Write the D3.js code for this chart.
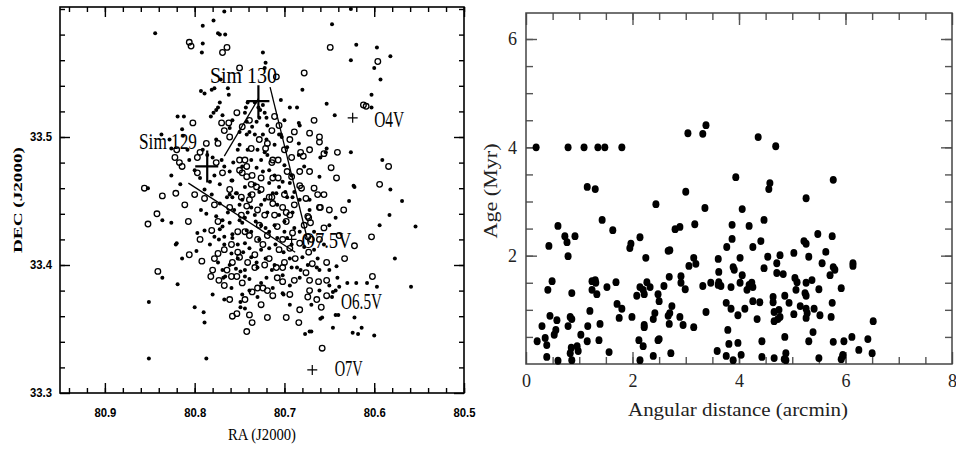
<!DOCTYPE html>
<html>
<head>
<meta charset="utf-8">
<script src="https://cdn.jsdelivr.net/npm/d3@7"></script>
<style>
  body { margin: 0; background: #fff; }
  svg { display: block; }
</style>
</head>
<body>
<svg id="chart" width="956" height="449"></svg>
<script>
// left panel: stars in the field, filled dots and open circles (RA, Dec in degrees)
const filledStars = [
  [80.844,33.581],[80.791,33.587],[80.779,33.591],[80.774,33.581],[80.772,33.580],[80.791,33.573],
  [80.792,33.566],[80.767,33.598],[80.626,33.600],[80.647,33.588],[80.620,33.572],[80.626,33.560],
  [80.597,33.570],[80.582,33.563],[80.600,33.554],[80.724,33.566],[80.721,33.558],[80.766,33.580],
  [80.771,33.545],[80.593,33.545],[80.680,33.537],[80.704,33.529],[80.686,33.523],[80.653,33.526],
  [80.644,33.517],[80.603,33.533],[80.603,33.523],[80.793,33.536],[80.789,33.534],[80.778,33.538],
  [80.763,33.538],[80.762,33.533],[80.772,33.527],[80.776,33.521],[80.819,33.516],[80.812,33.516],
  [80.782,33.516],[80.814,33.506],[80.837,33.502],[80.813,33.501],[80.683,33.509],[80.704,33.502],
  [80.684,33.495],[80.697,33.492],[80.653,33.491],[80.654,33.488],[80.626,33.488],[80.591,33.482],
  [80.741,33.527],[80.733,33.527],[80.729,33.523],[80.724,33.525],[80.727,33.521],[80.722,33.519],
  [80.720,33.515],[80.728,33.515],[80.731,33.512],[80.736,33.508],[80.739,33.504],[80.719,33.509],
  [80.724,33.502],[80.720,33.498],[80.744,33.519],[80.743,33.523],[80.742,33.512],[80.684,33.511],
  [80.722,33.488],[80.731,33.476],[80.706,33.502],[80.703,33.500],[80.684,33.486],[80.678,33.477],
  [80.661,33.469],[80.660,33.484],[80.692,33.470],[80.694,33.464],[80.699,33.457],[80.706,33.461],
  [80.717,33.464],[80.728,33.457],[80.713,33.456],[80.691,33.453],[80.697,33.453],[80.622,33.461],
  [80.781,33.537],[80.774,33.523],[80.779,33.519],[80.769,33.517],[80.828,33.498],[80.826,33.491],
  [80.791,33.490],[80.776,33.498],[80.761,33.507],[80.758,33.513],[80.750,33.504],[80.742,33.502],
  [80.826,33.470],[80.852,33.460],[80.816,33.463],[80.786,33.486],[80.780,33.484],[80.770,33.482],
  [80.767,33.477],[80.761,33.473],[80.757,33.480],[80.747,33.477],[80.758,33.466],[80.754,33.456],
  [80.764,33.453],[80.744,33.461],[80.836,33.435],[80.826,33.433],[80.793,33.443],[80.787,33.440],
  [80.776,33.438],[80.769,33.435],[80.772,33.428],[80.797,33.425],[80.820,33.417],[80.821,33.416],
  [80.798,33.411],[80.814,33.405],[80.778,33.422],[80.773,33.420],[80.767,33.422],[80.769,33.396],
  [80.766,33.391],[80.759,33.409],[80.744,33.391],[80.749,33.395],[80.836,33.390],[80.819,33.385],
  [80.851,33.371],[80.780,33.377],[80.767,33.373],[80.800,33.367],[80.790,33.363],[80.789,33.355],
  [80.749,33.367],[80.744,33.366],[80.747,33.377],[80.761,33.455],[80.758,33.453],[80.753,33.456],
  [80.747,33.451],[80.772,33.448],[80.756,33.443],[80.744,33.437],[80.747,33.433],[80.758,33.421],
  [80.744,33.417],[80.742,33.427],[80.761,33.433],[80.628,33.450],[80.650,33.431],[80.643,33.437],
  [80.737,33.445],[80.722,33.451],[80.709,33.456],[80.706,33.439],[80.700,33.426],[80.678,33.414],
  [80.680,33.406],[80.686,33.398],[80.682,33.396],[80.664,33.398],[80.650,33.384],[80.661,33.380],
  [80.670,33.369],[80.643,33.380],[80.639,33.383],[80.647,33.375],[80.641,33.390],[80.650,33.396],
  [80.661,33.396],[80.642,33.399],[80.739,33.413],[80.737,33.406],[80.744,33.396],[80.720,33.390],
  [80.692,33.398],[80.713,33.382],[80.702,33.378],[80.694,33.369],[80.672,33.348],[80.677,33.346],
  [80.758,33.424],[80.769,33.430],[80.768,33.390],[80.851,33.327],[80.787,33.327],[80.594,33.431],
  [80.554,33.430],[80.577,33.405],[80.559,33.383],[80.597,33.383],[80.608,33.386],[80.620,33.386],
  [80.630,33.386],[80.646,33.379],[80.622,33.359],[80.614,33.351],[80.618,33.346],[80.624,33.347],
  [80.600,33.345],[80.646,33.351],[80.670,33.348],[80.640,33.361],[80.643,33.361],[80.660,33.358],
  [80.658,33.359],[80.749,33.371],[80.730,33.375],[80.701,33.377],[80.582,33.459],[80.569,33.450],
  [80.623,33.462],[80.583,33.439],[80.722,33.554],
  [80.733,33.439],[80.726,33.431],[80.717,33.426],[80.710,33.416],[80.701,33.410],[80.694,33.405],
  [80.728,33.420],[80.719,33.441],[80.711,33.431],[80.697,33.421],[80.689,33.429],[80.726,33.482],
  [80.717,33.474],[80.741,33.490],[80.750,33.494],[80.733,33.463],[80.708,33.447],[80.691,33.441],
  [80.683,33.451],[80.672,33.443],[80.683,33.426],[80.667,33.412],[80.663,33.405],[80.656,33.416],
  [80.731,33.402],[80.721,33.405],[80.711,33.400],[80.702,33.392],[80.726,33.386],[80.739,33.380],
  [80.759,33.382],[80.761,33.400],[80.752,33.416],[80.750,33.435],[80.737,33.426],[80.752,33.405],
  [80.806,33.482],[80.800,33.474],[80.794,33.468],[80.789,33.459],[80.783,33.465],[80.778,33.470],
  [80.772,33.463],[80.808,33.490],
  [80.752,33.490],[80.737,33.482],[80.730,33.490],[80.719,33.486],[80.711,33.470],[80.700,33.478],
  [80.726,33.447],[80.741,33.441],[80.732,33.434],[80.721,33.429],[80.708,33.421],[80.717,33.413],
  [80.726,33.412],[80.700,33.434],[80.692,33.416],[80.746,33.410],[80.754,33.397],[80.739,33.389],
  [80.730,33.398],[80.714,33.396],[80.694,33.384],[80.683,33.390],[80.674,33.400],[80.667,33.426],
  [80.672,33.451],[80.689,33.457],[80.702,33.465],[80.724,33.473],[80.739,33.455],[80.750,33.447],
  [80.763,33.441],[80.767,33.416],[80.774,33.402],[80.783,33.416],[80.789,33.427],[80.759,33.466],
  [80.781,33.455],[80.733,33.502],[80.711,33.494],[80.700,33.513],[80.694,33.523]
];

const openStars = [
  [80.806,33.574],[80.804,33.571],[80.769,33.566],[80.764,33.570],[80.802,33.511],[80.770,33.511],
  [80.649,33.570],[80.596,33.559],[80.709,33.547],[80.678,33.550],[80.750,33.554],[80.612,33.525],
  [80.609,33.524],[80.689,33.504],[80.672,33.503],[80.661,33.500],[80.679,33.485],[80.682,33.488],
  [80.672,33.473],[80.661,33.496],[80.656,33.487],[80.641,33.488],[80.648,33.476],[80.642,33.468],
  [80.584,33.477],[80.594,33.463],[80.676,33.452],[80.681,33.460],[80.692,33.469],[80.661,33.445],
  [80.674,33.438],[80.711,33.516],[80.714,33.505],[80.737,33.491],[80.713,33.482],[80.714,33.480],
  [80.707,33.482],[80.744,33.482],[80.742,33.477],[80.750,33.474],[80.747,33.472],[80.736,33.470],
  [80.713,33.468],[80.707,33.468],[80.726,33.468],[80.731,33.461],[80.737,33.463],[80.736,33.455],
  [80.714,33.453],[80.820,33.490],[80.822,33.484],[80.817,33.480],[80.814,33.477],[80.797,33.484],
  [80.794,33.488],[80.787,33.495],[80.774,33.495],[80.761,33.500],[80.767,33.505],[80.762,33.511],
  [80.753,33.519],[80.747,33.508],[80.797,33.472],[80.856,33.460],[80.836,33.454],[80.821,33.456],
  [80.776,33.480],[80.769,33.472],[80.750,33.482],[80.761,33.459],[80.748,33.453],[80.742,33.469],
  [80.811,33.447],[80.842,33.440],[80.852,33.432],[80.807,33.434],[80.774,33.434],[80.792,33.403],
  [80.774,33.409],[80.778,33.405],[80.780,33.396],[80.782,33.391],[80.773,33.388],[80.764,33.396],
  [80.758,33.402],[80.750,33.406],[80.752,33.410],[80.759,33.391],[80.747,33.386],[80.841,33.395],
  [80.758,33.360],[80.753,33.362],[80.761,33.445],[80.748,33.439],[80.752,33.426],[80.742,33.446],
  [80.660,33.445],[80.673,33.437],[80.671,33.433],[80.622,33.415],[80.739,33.451],[80.730,33.443],
  [80.717,33.453],[80.713,33.448],[80.702,33.445],[80.698,33.441],[80.698,33.434],[80.691,33.425],
  [80.674,33.422],[80.670,33.420],[80.683,33.417],[80.673,33.410],[80.676,33.394],[80.672,33.388],
  [80.669,33.401],[80.662,33.387],[80.653,33.388],[80.672,33.380],[80.674,33.375],[80.664,33.373],
  [80.659,33.367],[80.653,33.376],[80.653,33.402],[80.724,33.416],[80.733,33.398],[80.730,33.382],
  [80.724,33.382],[80.709,33.398],[80.702,33.398],[80.708,33.390],[80.702,33.387],[80.713,33.376],
  [80.698,33.359],[80.684,33.355],[80.736,33.355],[80.753,33.391],[80.603,33.422],[80.602,33.391],
  [80.658,33.335],[80.736,33.379],
  [80.728,33.431],[80.719,33.423],[80.706,33.412],[80.694,33.413],[80.722,33.439],[80.733,33.408],
  [80.700,33.402],[80.689,33.388],[80.683,33.365],[80.726,33.369],[80.744,33.373],[80.739,33.361],
  [80.719,33.359],[80.761,33.373],[80.767,33.412],[80.778,33.447],[80.789,33.452],[80.800,33.455],
  [80.728,33.498],[80.719,33.495],[80.700,33.490],[80.694,33.498],[80.692,33.484],[80.683,33.473],
  [80.667,33.460],[80.656,33.455],[80.650,33.443],[80.639,33.423],[80.633,33.405],[80.656,33.429],
  [80.661,33.420],[80.663,33.455],[80.634,33.443],[80.694,33.439],[80.708,33.430],[80.722,33.400],
  [80.739,33.423],[80.759,33.416],[80.742,33.348],
  [80.726,33.459],[80.700,33.455],[80.689,33.447],[80.711,33.439],[80.730,33.420],[80.717,33.405],
  [80.702,33.420],[80.688,33.405],[80.744,33.426],[80.741,33.402],[80.767,33.384],[80.719,33.380],
  [80.694,33.377],[80.678,33.431],[80.683,33.462],[80.697,33.473],[80.721,33.491],[80.739,33.513],
  [80.706,33.509],[80.672,33.490],[80.667,33.513],[80.781,33.427],[80.794,33.420],[80.806,33.408]
];

const raTicks = [80.9, 80.8, 80.7, 80.6, 80.5];
const decTicks = [33.3, 33.4, 33.5];

// annotations on the left panel
const labelTexts = ["Sim 130", "Sim 129", "O4V", "O7.5V", "O6.5V", "O7V"];
const labelRa = [80.783, 80.862, 80.600, 80.681, 80.637, 80.644];
const labelDec = [33.542, 33.491, 33.508, 33.413, 33.366, 33.313];
const plusRa = [80.624, 80.692, 80.669];
const plusDec = [33.515, 33.420, 33.318];
const simRa = [80.729, 80.786];
const simDec = [33.528, 33.477];
const connectors = [
  [80.716, 33.539, 80.673, 33.416],
  [80.729, 33.530, 80.767, 33.485],
  [80.807, 33.464, 80.688, 33.410]
];

// right panel: age vs angular distance
const ageDots = [
  [0.19,4.0],[0.79,4.0],[1.09,4.0],[1.35,4.0],[1.48,4.0],[1.80,4.0],
  [1.15,3.27],[1.30,3.23],[2.44,2.95],[3.04,4.26],[3.32,4.25],[3.38,4.41],
  [3.00,3.18],[3.36,2.88],[0.60,2.55],[1.43,2.66],[1.63,2.47],[2.80,2.49],
  [2.89,2.53],[3.17,2.58],[4.36,4.19],[4.69,4.02],[3.94,3.45],[4.58,3.34],
  [4.56,3.23],[5.77,3.40],[5.26,3.06],[4.06,2.86],[4.47,2.66],[3.87,2.57],
  [4.19,2.55],[0.43,2.18],[0.73,2.36],[0.77,2.25],[0.92,2.36],[0.79,1.99],
  [1.97,2.22],[1.95,2.14],[2.14,2.34],[2.25,1.96],[2.67,2.09],[2.70,2.10],
  [3.06,1.81],[3.15,1.96],[3.19,1.85],[3.61,1.94],[0.49,1.53],[0.41,1.37],
  [0.86,1.31],[1.24,1.53],[1.30,1.55],[1.31,1.50],[1.24,1.37],[1.33,1.29],
  [1.52,1.42],[1.69,1.51],[2.08,1.26],[2.14,1.42],[2.20,1.37],[2.22,1.29],
  [2.27,1.51],[2.33,1.42],[2.48,1.29],[2.59,1.44],[2.69,1.61],[2.91,1.62],
  [2.91,1.50],[2.99,1.38],[3.32,1.44],[3.47,1.50],[3.61,1.46],[0.45,0.89],
  [0.58,0.81],[0.30,0.70],[0.56,0.63],[0.53,0.54],[0.83,0.87],[0.86,0.83],
  [0.79,0.70],[1.20,0.98],[1.16,0.70],[1.39,0.74],[1.03,0.54],[1.15,0.42],
  [1.37,0.44],[1.71,1.11],[1.80,1.02],[1.75,0.85],[1.99,0.87],[2.22,0.72],
  [2.22,0.68],[2.39,0.83],[2.42,0.94],[2.50,1.16],[2.50,0.46],[2.67,0.89],
  [2.69,0.74],[2.70,0.94],[2.74,1.07],[2.89,0.87],[2.95,0.72],[3.15,0.68],
  [3.38,0.96],[0.21,0.42],[0.36,0.48],[0.39,0.35],[0.39,0.13],[0.60,0.06],
  [0.85,0.30],[0.83,0.20],[0.86,0.07],[0.96,0.33],[0.98,0.24],[1.56,0.22],
  [2.12,0.44],[2.20,0.33],[2.14,0.07],[2.39,0.15],[2.48,0.44],[2.72,0.20],
  [3.59,0.24],[3.87,2.31],[3.77,2.16],[4.26,2.16],[4.41,2.27],[5.48,2.40],
  [5.75,2.36],[5.22,2.27],[5.26,2.22],[5.63,2.07],[4.02,1.96],[4.54,1.98],
  [4.77,2.01],[4.71,1.86],[5.03,2.05],[5.31,1.98],[5.56,1.86],[3.89,1.79],
  [3.91,1.74],[3.62,1.70],[4.47,1.77],[4.71,1.68],[4.83,1.66],[5.77,1.79],
  [5.80,1.74],[5.71,1.64],[6.14,1.86],[6.14,1.81],[3.62,1.51],[3.66,1.44],
  [3.85,1.42],[4.02,1.50],[4.06,1.64],[4.19,1.46],[4.24,1.50],[4.26,1.42],
  [4.15,1.37],[5.05,1.59],[5.09,1.51],[5.37,1.55],[5.26,1.50],[5.07,1.37],
  [5.24,1.31],[5.26,1.26],[5.50,1.38],[5.92,1.40],[3.76,1.13],[3.85,1.02],
  [3.98,0.90],[4.11,1.02],[4.26,1.16],[4.39,1.14],[4.34,0.83],[4.64,1.24],
  [4.64,1.14],[4.86,1.26],[4.66,0.96],[4.66,0.79],[4.75,1.00],[4.77,0.87],
  [4.73,0.83],[4.94,1.13],[5.03,0.92],[5.15,1.07],[5.26,1.02],[5.28,0.94],
  [5.26,0.85],[5.41,1.02],[5.52,0.90],[5.73,0.87],[5.75,1.13],[3.79,0.63],
  [3.81,0.37],[3.98,0.39],[4.43,0.42],[4.86,0.50],[5.39,0.59],[5.31,0.42],
  [5.77,0.41],[5.97,0.42],[5.95,0.17],[6.12,0.50],[6.25,0.26],[6.42,0.46],
  [6.50,0.20],[6.52,0.79],[3.76,0.15],[3.89,0.07],[4.04,0.17],[4.43,0.13],
  [4.66,0.11],[4.88,0.20],[4.88,0.07],[4.85,0.09],[5.50,0.11],[5.92,0.09],
  [5.95,0.15]
];

const distTicks = [0, 2, 4, 6, 8];
const ageTicks = [2, 4, 6];

const svg = d3.select("#chart");
const serif = "'Liberation Serif', 'Times New Roman', serif";
const sans = "'Liberation Sans', Arial, sans-serif";

// ---------- left panel ----------
const x1 = d3.scaleLinear().domain([80.95, 80.5]).range([60, 464]);
const y1 = d3.scaleLinear().domain([33.3, 33.6]).range([393, 9]);
const frameTop1 = 7;
const left = svg.append("g");

const raMinor = d3.range(80.94, 80.499, -0.02);
const decMinor = d3.range(33.32, 33.601, 0.02);

function inwardAxis(g, axisFn, scale, minor, major, bigLen, smallLen, fmt) {
  g.append("g").call(axisFn(scale).tickValues(minor).tickSize(-smallLen).tickSizeOuter(0).tickFormat(""));
  return g.append("g").call(axisFn(scale).tickValues(major).tickSize(-bigLen).tickSizeOuter(0).tickFormat(fmt));
}

const f1 = d3.format(".1f");
const f0 = d3.format("d");

const lb = inwardAxis(left.append("g").attr("transform", "translate(0,393)"), d3.axisBottom, x1, raMinor, raTicks, 10, 5, f1);
lb.selectAll("text").attr("y", 24).attr("dy", null);
inwardAxis(left.append("g").attr("transform", `translate(0,${frameTop1})`), d3.axisTop, x1, raMinor, raTicks, 10, 5, f1)
  .selectAll("text").remove();
const ll = inwardAxis(left.append("g").attr("transform", "translate(60,0)"), d3.axisLeft, y1, decMinor, decTicks, 10, 5, f1);
ll.selectAll("text").attr("x", -8);
inwardAxis(left.append("g").attr("transform", "translate(464,0)"), d3.axisRight, y1, decMinor, decTicks, 10, 5, f1)
  .selectAll("text").remove();

left.selectAll(".domain").remove();
left.selectAll(".tick line").attr("stroke", "#000").attr("stroke-width", 1.4);
left.selectAll(".tick text")
  .attr("font-family", sans).attr("font-size", 12).attr("font-weight", "bold")
  .attr("fill", "#000").attr("textLength", 22).attr("lengthAdjust", "spacingAndGlyphs");

left.append("rect")
  .attr("x", 60).attr("y", frameTop1).attr("width", 404).attr("height", 393 - frameTop1)
  .attr("fill", "none").attr("stroke", "#000").attr("stroke-width", 1.6);

left.append("g").selectAll("circle")
  .data(openStars)
  .join("circle")
  .attr("cx", d => x1(d[0])).attr("cy", d => y1(d[1]))
  .attr("r", 2.8).attr("fill", "none").attr("stroke", "#000").attr("stroke-width", 1.3);

left.append("g").selectAll("circle")
  .data(filledStars)
  .join("circle")
  .attr("cx", d => x1(d[0])).attr("cy", d => y1(d[1]))
  .attr("r", 2.0).attr("fill", "#000");

left.append("g").selectAll("line")
  .data(connectors)
  .join("line")
  .attr("x1", d => x1(d[0])).attr("y1", d => y1(d[1]))
  .attr("x2", d => x1(d[2])).attr("y2", d => y1(d[3]))
  .attr("stroke", "#000").attr("stroke-width", 1.3);

// big crosses for the two Sim sources
simRa.forEach((ra, i) => {
  const cx = x1(ra), cy = y1(simDec[i]);
  left.append("path")
    .attr("d", `M${cx - 12},${cy}H${cx + 11}M${cx},${cy - 16}V${cy + 16}`)
    .attr("stroke", "#000").attr("stroke-width", 2.2).attr("fill", "none");
});

// small plus markers for O stars
plusRa.forEach((ra, i) => {
  const cx = x1(ra), cy = y1(plusDec[i]);
  left.append("path")
    .attr("d", `M${cx - 5},${cy}H${cx + 5}M${cx},${cy - 5}V${cy + 5}`)
    .attr("stroke", "#000").attr("stroke-width", 1.2).attr("fill", "none");
});

const labelWidths = [67, 58, 30, 50, 41, 28];
left.append("g").selectAll("text")
  .data(labelTexts)
  .join("text")
  .attr("x", (d, i) => x1(labelRa[i])).attr("y", (d, i) => y1(labelDec[i]))
  .attr("font-family", serif).attr("font-size", 23)
  .attr("textLength", (d, i) => labelWidths[i]).attr("lengthAdjust", "spacingAndGlyphs")
  .text(d => d);

left.append("text")
  .attr("x", 228).attr("y", 440)
  .attr("font-family", serif).attr("font-size", 16)
  .attr("textLength", 68).attr("lengthAdjust", "spacingAndGlyphs")
  .text("RA (J2000)");

left.append("text")
  .attr("transform", "translate(22,200) rotate(-90)")
  .attr("text-anchor", "middle")
  .attr("font-family", serif).attr("font-weight", "bold").attr("font-size", 13)
  .attr("textLength", 106).attr("lengthAdjust", "spacingAndGlyphs")
  .text("DEC (J2000)");

// ---------- right panel ----------
const x2 = d3.scaleLinear().domain([0, 8]).range([526, 952]);
const y2 = d3.scaleLinear().domain([0, 6.48]).range([364, 13]);
const right = svg.append("g");

const distMinor = d3.range(0.5, 8, 0.5);
const ageMinor = d3.range(0.5, 6.48, 0.5);

const rb = inwardAxis(right.append("g").attr("transform", "translate(0,364)"), d3.axisBottom, x2, distMinor, distTicks, 12, 7, f0);
rb.selectAll("text").attr("y", 23).attr("dy", null);
inwardAxis(right.append("g").attr("transform", "translate(0,13)"), d3.axisTop, x2, distMinor, distTicks, 12, 7, f0)
  .selectAll("text").remove();
const rl = inwardAxis(right.append("g").attr("transform", "translate(526,0)"), d3.axisLeft, y2, ageMinor, ageTicks, 11, 7, f0);
rl.selectAll("text").attr("x", -9);
inwardAxis(right.append("g").attr("transform", "translate(952,0)"), d3.axisRight, y2, ageMinor, ageTicks, 11, 7, f0)
  .selectAll("text").remove();

right.selectAll(".domain").remove();
right.selectAll(".tick line").attr("stroke", "#555").attr("stroke-width", 1.4);
right.selectAll(".tick text").attr("font-family", serif).attr("font-size", 18).attr("fill", "#222");

right.append("rect")
  .attr("x", 526).attr("y", 13).attr("width", 426).attr("height", 351)
  .attr("fill", "none").attr("stroke", "#444").attr("stroke-width", 1.5);

right.append("g").selectAll("ellipse")
  .data(ageDots)
  .join("ellipse")
  .attr("cx", d => x2(d[0])).attr("cy", d => y2(d[1]))
  .attr("rx", 3.5).attr("ry", 3.9).attr("fill", "#000");

right.append("text")
  .attr("x", 628).attr("y", 416)
  .attr("font-family", serif).attr("font-size", 18).attr("fill", "#222")
  .attr("textLength", 220).attr("lengthAdjust", "spacingAndGlyphs")
  .text("Angular distance (arcmin)");

right.append("text")
  .attr("transform", "translate(497,191) rotate(-90)")
  .attr("text-anchor", "middle")
  .attr("font-family", serif).attr("font-size", 18).attr("fill", "#222")
  .attr("textLength", 95).attr("lengthAdjust", "spacingAndGlyphs")
  .text("Age (Myr)");
</script>
</body>
</html>
